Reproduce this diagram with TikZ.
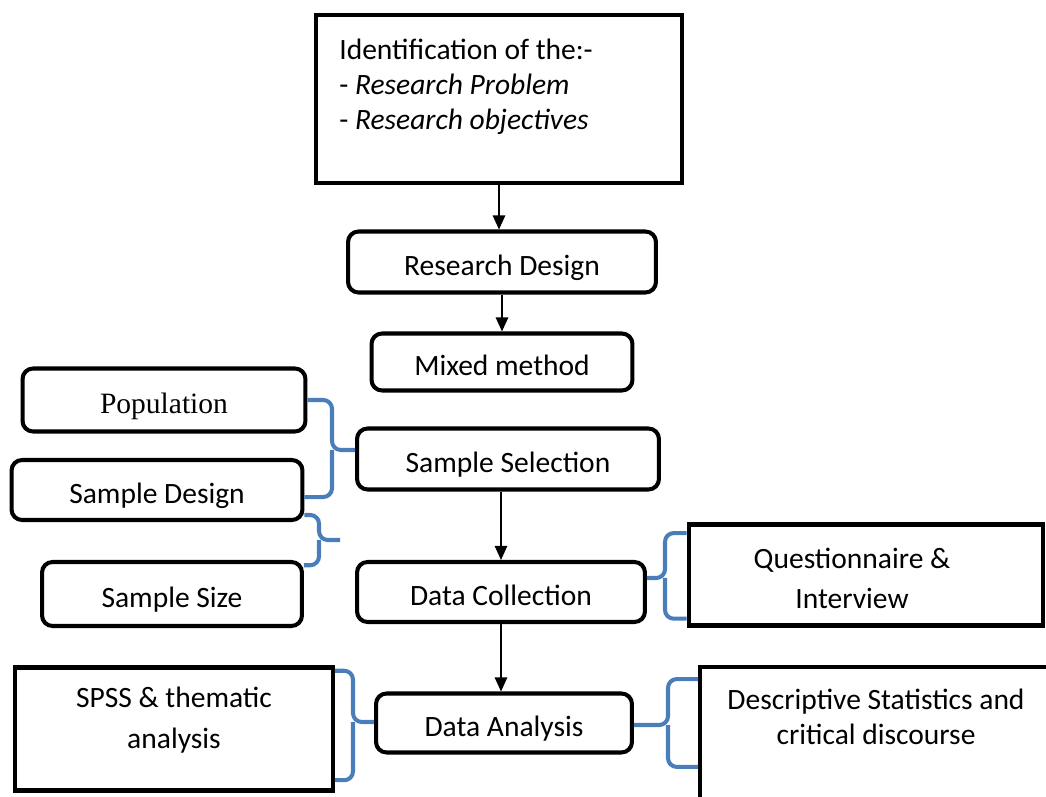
\documentclass[tikz,border=0pt]{standalone}
\usepackage{fontspec}
\setmainfont{Carlito}
\newfontfamily\timesfont{Liberation Serif}
\usetikzlibrary{arrows.meta}
\definecolor{braceblue}{RGB}{74,126,187}

\tikzset{
  rbox/.style={draw, line width=2.3pt, rounded corners=6pt, inner sep=0pt,
    text height=15.3pt, text depth=0pt},
  sbox/.style={draw, line width=2.3pt, inner sep=0pt},
  arr/.style={line width=1.1pt, -{Triangle[length=8pt,width=7pt]}},
  brace/.style={draw=braceblue, line width=2.3pt, rounded corners=5pt},
}

\begin{document}
\begin{tikzpicture}[x=0.02cm, y=-0.02cm,
    every node/.style={font=\fontsize{16.8}{20.1}\selectfont}]
  \clip (0,0) rectangle (1046,797);

  % main column
  \node[sbox, minimum width=7.32cm, minimum height=3.36cm] (ident) at (499,99) {};
  \node[anchor=north west, align=left, inner sep=0pt] (identtext) at (339,38.5)
    {Identification of the:-\\- \textit{Research Problem}\\- \textit{Research objectives}};
  \node[rbox, minimum width=6.16cm, minimum height=1.22cm] (design) at (502,262) {Research Design};
  \node[rbox, minimum width=5.22cm, minimum height=1.14cm] (mixed) at (502,362) {Mixed method};
  \node[rbox, minimum width=6.04cm, minimum height=1.22cm] (ssel) at (508,459) {Sample Selection};
  \node[rbox, minimum width=5.76cm, minimum height=1.2cm] (dcoll) at (501,592) {Data Collection};
  \node[rbox, minimum width=5.12cm, minimum height=1.18cm] (danal) at (504,723) {Data Analysis};

  % left side
  \node[rbox, minimum width=5.66cm, minimum height=1.26cm] (pop) at (164,400) {\timesfont Population};
  \node[rbox, minimum width=5.82cm, minimum height=1.2cm] (sdesign) at (157,490) {Sample Design};
  \node[rbox, minimum width=5.2cm, minimum height=1.28cm] (ssize) at (172,594) {Sample Size};
  \node[sbox, minimum width=6.36cm, minimum height=2.46cm] (spss) at (174,729) {};
  \node[align=center, inner sep=0pt, font=\fontsize{16.8}{23}\selectfont] (spsstext) at (174,720)
    {SPSS \& thematic\\analysis};

  % right side
  \node[sbox, minimum width=7.1cm, minimum height=2.02cm] (quest) at (866,575) {};
  \node[align=center, inner sep=0pt, font=\fontsize{16.8}{22.7}\selectfont] (questtext) at (852,578)
    {Questionnaire \&\\Interview};
  \node[sbox, minimum width=7cm, minimum height=2.76cm] (desc) at (875,736) {};
  \node[align=center, inner sep=0pt] (desctext) at (876,717)
    {Descriptive Statistics and\\critical discourse};

  % arrows
  \draw[arr] (ident.south) -- (ident.south |- design.north);
  \draw[arr] (design.south) -- (mixed.north);
  \draw[arr] (ssel.south -| dcoll.north) -- (dcoll.north);
  \draw[arr] (dcoll.south) -- (dcoll.south |- danal.north);

  % braces
  \coordinate (b1) at (332,450);
  \coordinate (b2) at (319,540);
  \coordinate (b2tip) at (340,540);
  \coordinate (b3) at (665,578);
  \coordinate (b4) at (353,722);
  \coordinate (b5) at (668,725);
  \draw[brace] (pop.east) -| (b1) -- (b1 -| ssel.west);
  \draw[brace] ([yshift=-4pt]sdesign.east) -| (b1);
  \draw[brace] ([yshift=4pt]sdesign.south east) -| (b2) -- (b2tip);
  \draw[brace] ([yshift=-3pt]ssize.north east) -| (b2);
  \draw[brace] ([yshift=-6pt]quest.north west) -| (b3) -- (b3 -| dcoll.east);
  \draw[brace] ([yshift=5pt]quest.south west) -| (b3);
  \draw[brace] ([yshift=-3pt]spss.north east) -| (b4) -- (b4 -| danal.west);
  \draw[brace] ([yshift=7pt]spss.south east) -| (b4);
  \draw[brace] ([yshift=-8pt]desc.north west) -| (b5) -- (b5 -| danal.east);
  \draw[brace] ([yshift=-17.6pt]desc.west) -| (b5);
\end{tikzpicture}
\end{document}
